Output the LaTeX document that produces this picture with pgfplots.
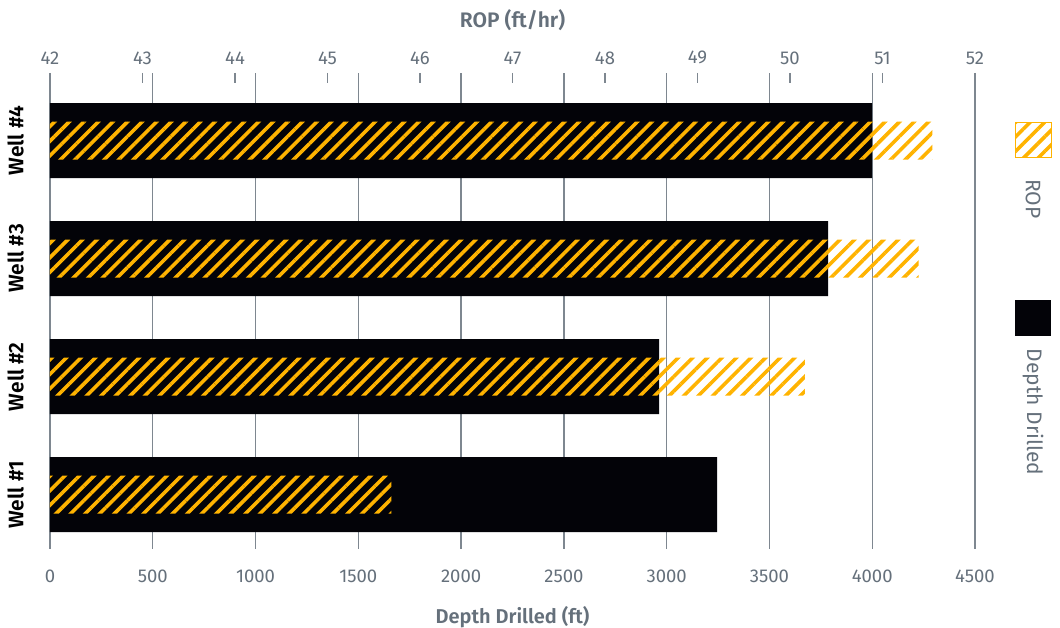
\documentclass[border=0pt]{standalone}
\usepackage{pgfplots}
\pgfplotsset{compat=1.18}
\usetikzlibrary{patterns.meta}
\usepackage{fontspec}
\setmainfont{Fira Sans}[BoldFont={Fira Sans SemiBold}]

\definecolor{ropor}{HTML}{FFB300}
\definecolor{blk}{HTML}{030308}
\definecolor{gridc}{HTML}{7E8790}
\definecolor{txt}{HTML}{65707B}

\begin{document}
\begin{tikzpicture}
  % bottom axis: depth drilled
  \begin{axis}[
      scale only axis, width=925pt, height=476pt,
      xmin=0, xmax=4500, ymin=0.54, ymax=4.572,
      xtick={0,500,...,4500},
      ytick={1,2,3,4},
      yticklabels={Well \#1, Well \#2, Well \#3, Well \#4},
      axis line style={draw=none},
      major tick length=0pt,
      xmajorgrids,
      grid style={gridc, line width=1.3pt},
      /pgf/number format/assume math mode=true,
      /pgf/number format/1000 sep=,
      xticklabel style={font=\fontsize{18.5}{22}\selectfont, text=txt, inner sep=0pt, anchor=north},
      xticklabel shift=21pt,
      yticklabel style={font=\fontsize{21}{24}\selectfont\bfseries, text=black, rotate=90, anchor=south, inner sep=0pt},
      yticklabel shift=26pt,
      xlabel={Depth Drilled (ft)},
      xlabel style={font=\fontsize{20}{24}\selectfont\bfseries, text=txt, at={(axis description cs:0.5,0)}, anchor=center, yshift=-68pt},
      xbar, bar shift=0pt, bar width=75pt,
    ]
    \addplot[draw=none, fill=blk] coordinates {(3246,1) (2963,2) (3785,3) (4000,4)};
  \end{axis}
  % top axis: ROP
  \begin{axis}[
      scale only axis, width=925pt, height=476pt,
      xmin=42, xmax=52, ymin=0.54, ymax=4.572,
      axis x line*=top, axis y line=none,
      axis line style={draw=none},
      xtick={42,43,...,52},
      tick align=inside,
      major tick length=10pt,
      tick style={gridc, line width=1.1pt},
      /pgf/number format/assume math mode=true,
      xticklabel style={font=\fontsize{18.5}{22}\selectfont, text=txt, inner sep=0pt, anchor=south},
      xticklabel shift=8.5pt,
      xlabel={ROP (ft/hr)},
      xlabel style={font=\fontsize{21}{24}\selectfont\bfseries, text=txt, at={(axis description cs:0.5,1)}, anchor=center, yshift=53pt},
      xbar, bar shift=0pt, bar width=38pt,
    ]
    \addplot[draw=none, pattern={Lines[angle=45, distance=10.3pt, line width=3.6pt]}, pattern color=ropor]
      coordinates {(45.69,1) (50.16,2) (51.39,3) (51.54,4)};
  \end{axis}
  % legend
  \path[draw=ropor, line width=1.2pt, pattern={Lines[angle=45, distance=10.3pt, line width=3.6pt]}, pattern color=ropor]
    (965.6pt,391.6pt) rectangle (1001.4pt,426.4pt);
  \node[rotate=-90, text=txt, font=\fontsize{21}{24}\selectfont] at (983pt,350pt) {ROP};
  \fill[blk] (965pt,213pt) rectangle (1001pt,249pt);
  \node[rotate=-90, text=txt, font=\fontsize{21}{24}\selectfont] at (983pt,137pt) {Depth Drilled};
  \pgfresetboundingbox
  \path[use as bounding box] (-50pt,-79pt) rectangle (1010pt,549pt);
\end{tikzpicture}
\end{document}
